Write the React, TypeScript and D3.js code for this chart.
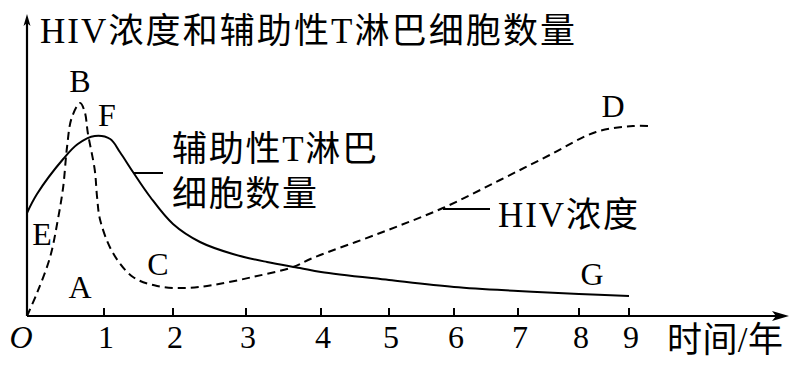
import React from 'react';
import * as d3 from 'd3';

// x axis years (tick labels) and the two curves
const yearTicks = [1, 2, 3, 4, 5, 6, 7, 8, 9];
const hivYears = [0, 0.13, 0.3, 0.4, 0.47, 0.52, 0.58, 0.69, 0.75, 0.79, 0.88, 0.91, 0.95, 1.13, 1.42, 1.77, 2.16, 2.55, 3.09, 3.63, 3.89, 4.87, 5.83, 6.72, 7.52, 8.34, 9.08, 9.38];
const hivLevel = [0, 11.5, 29.5, 48, 64.5, 84.5, 99, 106.5, 102, 91.5, 73, 59.5, 48, 31.5, 19.5, 15, 14, 15.5, 19.5, 24.5, 29, 41.5, 54, 68, 80.5, 92, 95, 95];
const tcellYears = [0, 0.13, 0.47, 0.66, 0.88, 1.09, 1.23, 1.42, 1.67, 2.0, 2.37, 2.82, 3.28, 3.72, 4, 5, 6, 7, 8, 9];
const tcellCount = [51.5, 61, 78.5, 86, 90, 88.5, 82, 72, 59.5, 46, 37, 31, 27, 24, 22, 18, 14.5, 12.5, 11, 10];

const yTitle = 'HIV浓度和辅助性T淋巴细胞数量';
const tcellLabel = ['辅助性T淋巴', '细胞数量'];
const hivLabel = 'HIV浓度';
const xTitle = '时间/年';
const pointLetters = ['A', 'B', 'C', 'D', 'E', 'F', 'G'];

const FONT = '"Liberation Serif", "Noto Sans CJK SC", serif';

export default function App() {
  const W = 812, H = 374;
  const x0 = 27, y0 = 316;

  // the printed year ticks are not evenly spaced, so a piecewise scale
  const x = d3.scaleLinear()
    .domain([0, 1, 2, 3, 4, 5, 6, 7, 8, 9])
    .range([x0, 104, 173, 246, 321, 389, 454, 518, 579, 629]);
  const y = d3.scaleLinear().domain([0, 150]).range([y0, 16]);

  const line = d3.line<[number, number]>()
    .x(d => x(d[0]))
    .y(d => y(d[1]))
    .curve(d3.curveCatmullRom.alpha(0.5));

  const hivPath = line(hivYears.map((t, i) => [t, hivLevel[i]]));
  const tcellPath = line(tcellYears.map((t, i) => [t, tcellCount[i]]));

  const letterPos: Record<string, [number, number]> = {
    A: [80, 298], B: [80, 92], C: [158, 275], D: [613, 117],
    E: [42, 245], F: [107, 126], G: [592, 285],
  };

  return (
    <svg width={W} height={H} style={{ position: 'absolute', left: 0, top: 0, background: '#fff' }}
      fontFamily={FONT} fill="#000">
      {/* axes */}
      <line x1={x0} y1={y0} x2={782} y2={y0} stroke="#000" strokeWidth={2.2} />
      <path d={`M789,${y0} L772,${y0 - 5} L776,${y0} L772,${y0 + 5} Z`} fill="#000" />
      <line x1={x0} y1={y0} x2={x0} y2={22} stroke="#000" strokeWidth={2.2} />
      <path d={`M${x0},14 L${x0 - 3.5},26 L${x0},23 L${x0 + 3.5},26 Z`} fill="#000" />

      {yearTicks.map(t => (
        <g key={t}>
          <line x1={x(t)} x2={x(t)} y1={y0} y2={y0 - 8} stroke="#000" strokeWidth={2} />
          <text x={x(t) + 2} y={348} fontSize={32} textAnchor="middle">{t}</text>
        </g>
      ))}
      <text x={21} y={348} fontSize={32} fontStyle="italic" textAnchor="middle">O</text>

      {/* curves */}
      <path d={tcellPath || ''} fill="none" stroke="#000" strokeWidth={2} />
      <path d={hivPath || ''} fill="none" stroke="#000" strokeWidth={2} strokeDasharray="8,5" />

      {/* callout lines */}
      <line x1={133} y1={173} x2={163} y2={173} stroke="#000" strokeWidth={2} />
      <line x1={443} y1={209} x2={490} y2={209} stroke="#000" strokeWidth={2} />

      {/* texts */}
      <text x={40} y={43} fontSize={35} textLength={535} lengthAdjust="spacing">{yTitle}</text>
      <text x={172} y={161} fontSize={35} textLength={205} lengthAdjust="spacing">{tcellLabel[0]}</text>
      <text x={172} y={206} fontSize={35} textLength={145} lengthAdjust="spacing">{tcellLabel[1]}</text>
      <text x={498} y={227} fontSize={35} textLength={140} lengthAdjust="spacing">{hivLabel}</text>
      <text x={667} y={352} fontSize={35} textLength={116} lengthAdjust="spacing">{xTitle}</text>

      {pointLetters.map(l => (
        <text key={l} x={letterPos[l][0]} y={letterPos[l][1]} fontSize={32} textAnchor="middle">{l}</text>
      ))}
    </svg>
  );
}
